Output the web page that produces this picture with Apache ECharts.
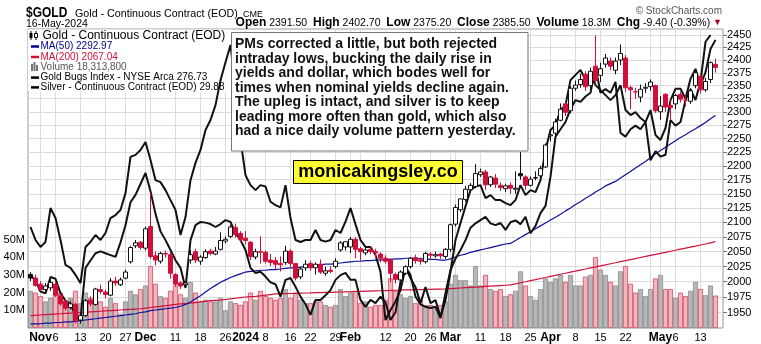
<!DOCTYPE html>
<html><head><meta charset="utf-8">
<script src="https://cdn.jsdelivr.net/npm/echarts@6/dist/echarts.min.js"></script>
<style>html,body{margin:0;padding:0;background:#fff}#c{width:761px;height:344px}</style>
</head><body><div id="c"></div>
<script>
const dates = ['2023-10-30','2023-10-31',
'2023-11-01','2023-11-02','2023-11-03','2023-11-06','2023-11-07','2023-11-08','2023-11-09','2023-11-10','2023-11-13','2023-11-14','2023-11-15','2023-11-16','2023-11-17','2023-11-20','2023-11-21','2023-11-22','2023-11-24','2023-11-27','2023-11-28','2023-11-29','2023-11-30',
'2023-12-01','2023-12-04','2023-12-05','2023-12-06','2023-12-07','2023-12-08','2023-12-11','2023-12-12','2023-12-13','2023-12-14','2023-12-15','2023-12-18','2023-12-19','2023-12-20','2023-12-21','2023-12-22','2023-12-26','2023-12-27','2023-12-28','2023-12-29',
'2024-01-02','2024-01-03','2024-01-04','2024-01-05','2024-01-08','2024-01-09','2024-01-10','2024-01-11','2024-01-12','2024-01-16','2024-01-17','2024-01-18','2024-01-19','2024-01-22','2024-01-23','2024-01-24','2024-01-25','2024-01-26','2024-01-29','2024-01-30','2024-01-31',
'2024-02-01','2024-02-02','2024-02-05','2024-02-06','2024-02-07','2024-02-08','2024-02-09','2024-02-12','2024-02-13','2024-02-14','2024-02-15','2024-02-16','2024-02-20','2024-02-21','2024-02-22','2024-02-23','2024-02-26','2024-02-27','2024-02-28','2024-02-29',
'2024-03-01','2024-03-04','2024-03-05','2024-03-06','2024-03-07','2024-03-08','2024-03-11','2024-03-12','2024-03-13','2024-03-14','2024-03-15','2024-03-18','2024-03-19','2024-03-20','2024-03-21','2024-03-22','2024-03-25','2024-03-26','2024-03-27','2024-03-28',
'2024-04-01','2024-04-02','2024-04-03','2024-04-04','2024-04-05','2024-04-08','2024-04-09','2024-04-10','2024-04-11','2024-04-12','2024-04-15','2024-04-16','2024-04-17','2024-04-18','2024-04-19','2024-04-22','2024-04-23','2024-04-24','2024-04-25','2024-04-26','2024-04-29','2024-04-30',
'2024-05-01','2024-05-02','2024-05-03','2024-05-06','2024-05-07','2024-05-08','2024-05-09','2024-05-10','2024-05-13','2024-05-14','2024-05-15','2024-05-16'];

const opens = [2012,2006,1996,1987,1990,1996,1977,1968,1958,1963,1938,1945,1970,1963,1987,1983,1978,2001,1995,2006,2033,2060,2066,
2056,2093,2043,2034,2047,2045,2012,1998,1995,2036,2050,2034,2040,2051,2046,2054,2068,2076,2091,2081,
2073,2066,2041,2050,2049,2036,2035,2030,2032,2051,2030,2008,2023,2030,2023,2029,2014,2019,2025,2053,2058,
2058,2071,2055,2048,2054,2050,2046,2039,2036,2012,2003,2014,2025,2040,2036,2033,2046,2043,2046,2042,
2054,2097,2122,2140,2157,2163,2184,2189,2166,2178,2165,2159,2165,2158,2186,2180,2165,2178,2182,2198,
2255,2260,2284,2315,2302,2345,2352,2372,2350,2388,2370,2392,2398,2380,2400,2404,2346,2338,2328,2345,2348,2350,
2300,2333,2312,2315,2333,2322,2320,2350,2368,2342,2362,2391.5];
const highs = [2016,2012,2001,1998,2004,1999,1980,1972,1969,1966,1948,1972,1976,1990,1995,1987,2006,2008,2007,2020,2060,2070,2068,
2093,2152,2050,2050,2052,2050,2014,2001,2000,2053,2055,2044,2054,2055,2058,2083,2076,2096,2098,2085,
2085,2068,2055,2076,2052,2046,2041,2042,2060,2054,2031,2024,2036,2035,2032,2037,2025,2026,2039,2068,2068,
2075,2075,2058,2058,2059,2055,2049,2044,2039,2015,2019,2027,2041,2045,2040,2050,2049,2050,2048,2056,
2098,2131,2142,2164,2169,2203,2195,2193,2182,2185,2170,2168,2170,2190,2225,2183,2181,2190,2200,2241,
2265,2287,2316,2319,2349,2360,2373,2378,2385,2449,2395,2412,2405,2405,2431,2410,2350,2346,2352,2355,2362,2352,
2330,2336,2325,2334,2338,2330,2345,2382,2372,2365,2397,2402.7];
const lows = [2001,1992,1985,1984,1985,1975,1961,1953,1955,1932,1932,1943,1960,1961,1980,1973,1976,1993,1993,2004,2030,2056,2053,
2052,2038,2027,2030,2040,2005,1992,1988,1992,2030,2031,2028,2038,2044,2044,2052,2064,2073,2074,2066,
2062,2036,2037,2030,2030,2026,2021,2017,2028,2025,2002,2004,2018,2018,2012,2013,2010,2014,2022,2050,2052,
2048,2039,2035,2044,2046,2041,2032,2030,1999,1997,1999,2011,2022,2030,2028,2030,2038,2040,2038,2038,
2050,2093,2118,2136,2152,2160,2180,2157,2162,2160,2155,2153,2150,2150,2175,2157,2163,2174,2180,2196,
2245,2255,2282,2292,2297,2340,2346,2340,2340,2353,2357,2385,2380,2372,2390,2338,2305,2325,2318,2336,2340,2298,
2285,2300,2285,2305,2318,2310,2315,2345,2335,2338,2355,2375.2];
const closes = [2006,1994,1987,1993,1999,1978,1964,1957,1964,1937,1945,1969,1964,1988,1984,1979,2001,1998,2003,2016,2057,2065,2057,
2089,2042,2036,2047,2046,2014,1996,1993,1998,2045,2036,2041,2050,2047,2051,2069,2071,2092,2079,2071,
2069,2042,2050,2049,2034,2032,2029,2028,2051,2030,2006,2021,2029,2023,2029,2016,2018,2017,2034,2065,2067,
2071,2054,2050,2053,2050,2048,2039,2034,2014,2004,2016,2025,2039,2035,2034,2047,2044,2045,2043,2054,
2096,2126,2141,2158,2165,2186,2189,2166,2180,2167,2161,2164,2160,2160,2182,2165,2176,2179,2195,2238,
2257,2281,2305,2299,2345,2351,2362,2348,2378,2360,2383,2404,2388,2398,2413,2346,2342,2338,2343,2347,2357,2302,
2311,2309,2308,2331,2324,2322,2340,2375,2342,2358,2395,2385.5];
const volumesM = [21,20,18,15,17,19,20,15,17,21,14,20,17,19,15,12,17,14,8,15,21,19,22,
24,35,25,18,17,21,24,19,17,26,20,15,16,15,15,17,10,15,14,13,
15,20,16,21,18,17,16,17,22,17,20,16,14,14,15,15,13,12,13,22,18,
20,21,14,15,12,13,13,16,28,21,19,17,18,14,16,13,13,12,13,15,
25,30,27,27,24,35,24,30,22,21,22,18,19,21,32,24,18,16,22,28,
26,28,30,26,30,24,24,29,30,40,33,30,26,24,32,35,25,20,22,18,22,28,
30,22,22,17,20,18,21,26,22,18.5,24,18.3];
const ma50 = [1932,1932,1932,1933,1933,1934,1934,1935,1935,1936,1937,1938,1939,1940,1941,1942,1943,1944,1945,1946,1947,1948,1950,
1951,1953,1954,1955,1956,1957,1958,1960,1963,1967,1972,1977,1983,1989,1994,1999,2003,2007,2010,2013,
2016,2017,2018,2019,2019,2020,2020,2021,2022,2023,2023,2024,2025,2026,2027,2028,2029,2029,2030,2031,2032,
2033,2034,2034,2035,2035,2036,2036,2037,2037,2038,2038,2039,2039,2039,2038,2038,2037,2037,2036,2036,
2038,2041,2044,2046,2049,2051,2053,2055,2057,2059,2061,2063,2064,2069,2074,2079,2084,2089,2094,2099,
2104,2109,2114,2120,2125,2131,2136,2142,2147,2153,2158,2164,2168,2172,2178,2184,2190,2196,2202,2208,2215,2222,
2228,2234,2240,2246,2252,2257,2263,2268,2274,2280,2287,2292.97];
const ma200 = [1945,1945.5,1946,1946.5,1947,1947.5,1948,1948.5,1949,1949.5,1950,1950.5,1951,1951.5,1952,1952.5,1953,1953.5,1954,1954.5,1955,1955.5,1956,
1957,1958,1959,1960,1961,1962,1963,1964,1964.5,1965,1966,1967,1968,1969,1969.5,1970,1971,1972,1973,1974,
1975,1975.5,1976,1977,1978,1979,1980,1980.2,1980.5,1980.7,1981,1981.2,1981.5,1981.7,1982,1982.2,1982.5,1982.7,1983,1983.2,1983.5,
1983.7,1984,1984.2,1984.5,1984.7,1985,1985.2,1985.5,1985.7,1986,1986.2,1986.5,1986.7,1987,1987.2,1987.4,1987.6,1987.8,1988,1988.2,
1988.7,1989.2,1989.7,1990.2,1990.7,1991.2,1991.7,1992.2,1992.7,1993.2,1993.7,1994.2,1994.7,1996.5,1998.3,2000,2001.8,2003.5,2005.3,2007,
2008.8,2010.5,2012.3,2014,2015.8,2017.5,2019.3,2021,2022.8,2024.5,2026.3,2028,2029.8,2031.5,2033.3,2035,2036.8,2038.5,2040.3,2042,2043.8,2045.5,
2047.3,2049,2050.8,2052.5,2054.3,2056,2057.8,2059.5,2061.3,2063,2065,2067.04];
const goldBugs = [220.4,216.5,214.4,215.9,226.1,223.1,216.5,209.0,208.1,206.0,203.5,214.4,215.9,218.0,216.5,218.6,223.1,224.0,225.5,230.6,241.5,242.1,243.6,
246.0,240.6,234.5,233.9,231.5,228.5,225.5,218.0,223.4,234.5,239.7,243.6,249.6,252.6,257.1,264.6,270.0,275.2,261.6,246.6,
236.0,233.0,231.5,233.0,232.6,228.0,227.0,226.3,233.0,223.1,216.5,215.9,216.5,216.5,219.5,216.5,216.0,216.5,219.5,218.6,222.0,
226.1,221.2,216.5,214.4,214.4,212.0,206.9,192.4,195.4,198.0,201.4,208.1,205.0,202.3,197.5,202.3,197.5,198.4,193.3,198.4,
206.9,216.5,221.6,226.6,231.5,232.6,233.0,229.1,230.0,228.5,228.5,227.6,227.0,228.5,233.0,230.0,231.5,230.9,234.5,243.6,
249.6,251.1,255.6,257.1,264.6,266.2,267.7,264.6,266.2,263.1,261.6,260.1,258.6,260.1,263.1,255.6,254.1,255.0,253.2,252.0,255.6,248.1,
246.6,250.2,258.6,262,262,259,265,268,263,267,274,276.73];
const silver = [23.30,23.15,22.85,22.80,23.25,23.20,22.80,22.60,22.50,22.20,22.10,23.50,23.70,23.90,23.95,23.90,23.85,23.80,24.20,24.67,25.30,25.50,25.80,
26.10,25.60,24.98,24.50,24.26,23.99,23.71,23.50,22.95,24.26,24.67,24.76,24.74,24.70,24.62,24.70,24.81,24.76,24.45,24.26,
23.99,23.50,23.36,23.39,23.26,23.10,23.05,22.71,23.17,23.22,22.98,22.71,22.50,22.21,22.62,22.62,22.75,22.89,23.17,23.30,23.36,
23.17,23.17,22.62,22.43,22.62,22.53,22.71,22.55,22.07,22.28,23.12,23.53,23.30,22.71,22.50,22.43,22.40,22.43,22.12,22.81,
23.44,23.75,23.99,24.26,24.60,24.72,24.81,24.90,24.72,24.67,24.73,24.54,24.75,24.80,24.70,24.90,24.45,24.65,25.00,
25.20,26.00,27.10,27.30,27.50,27.85,28.10,28.05,28.20,28.30,29.00,28.30,28.40,28.30,28.60,27.20,27.10,27.30,27.40,27.30,27.50,26.45,
26.70,26.55,26.60,27.55,27.40,27.50,28.10,28.40,28.10,28.60,29.70,29.88];

const priceTicks = [1950,1975,2000,2025,2050,2075,2100,2125,2150,2175,2200,2225,2250,2275,2300,2325,2350,2375,2400,2425,2450];
const volumeTicksM = [10,20,30,40,50];
const xTickLabels = [['2023-11-01','Nov'],['2023-11-06','6'],['2023-11-13','13'],['2023-11-20','20'],['2023-11-27','27'],
['2023-12-01','Dec'],['2023-12-11','11'],['2023-12-18','18'],['2023-12-26','26'],['2024-01-02','2024'],['2024-01-08','8'],
['2024-01-16','16'],['2024-01-22','22'],['2024-01-29','29'],['2024-02-01','Feb'],['2024-02-12','12'],['2024-02-20','20'],
['2024-02-26','26'],['2024-03-01','Mar'],['2024-03-11','11'],['2024-03-18','18'],['2024-03-25','25'],['2024-04-01','Apr'],
['2024-04-08','8'],['2024-04-15','15'],['2024-04-22','22'],['2024-05-01','May'],['2024-05-06','6'],['2024-05-13','13']];
const extraGridDates = ['2023-12-04','2024-02-05','2024-03-04','2024-04-29'];
const boldLabels = ['Nov','Dec','2024','Feb','Mar','Apr','May'];
const legendItems = ['Gold - Continuous Contract (EOD)','MA(50) 2292.97','MA(200) 2067.04','Volume 18,313,800','Gold Bugs Index - NYSE Arca 276.73','Silver - Continuous Contract (EOD) 29.88'];
const noteLines = ['PMs corrected a little, but both rejected','intraday lows, bucking the daily rise in','yields and dollar, which bodes well for','times when nominal yields decline again.','The upleg is intact, and silver is to keep','leading more often than gold, which also','had a nice daily volume pattern yesterday.'];

const RED = '#d0103a', BLK = '#111';
const FONT = '"Liberation Sans", Arial, sans-serif';
const labelMap = {}; xTickLabels.forEach(p => labelMap[p[0]] = p[1]);
const cats = dates.concat(['']);
const ln = Math.log;

const candleData = [], volData = [];
for (let i = 0; i < dates.length; i++) {
  const prev = i > 0 ? closes[i - 1] : closes[i];
  const col = closes[i] < prev ? RED : BLK;
  const fill = closes[i] > opens[i] ? '#fff' : col;
  candleData.push({value: [ln(opens[i]), ln(closes[i]), ln(lows[i]), ln(highs[i])],
    itemStyle: {color: fill, color0: fill, borderColor: col, borderColor0: col, borderColorDoji: col}});
  const down = closes[i] < prev;
  volData.push({value: volumesM[i], itemStyle: down ? {color: '#efb6be', borderColor: '#d24a66'} : {color: '#b7b7b7', borderColor: '#8a8a8a'}});
}
const isTick = (idx) => labelMap[cats[idx]] !== undefined;
const isGrid = (idx) => isTick(idx) || extraGridDates.includes(cats[idx]);

const chart = echarts.init(document.getElementById('c'), null, {renderer: 'canvas'});
const legendG = [];
legendG.push({type: 'rect', shape: {x: 28, y: 29.5, width: 203, height: 62}, style: {fill: '#fff'}, z: 1, silent: true});
const legendColors = ['#000', '#00008b', RED, '#555', '#000', '#000'];
const legendY = [35.7, 46.5, 57.0, 67.5, 77.6, 87.4];
legendItems.forEach((t, k) => {
  const y = legendY[k];
  legendG.push({type: 'text', z: 50, style: {x: k === 0 ? 42.5 : 40.5, y: y, text: t, fill: legendColors[k], font: (k === 0 ? '12px ' : '10px ') + FONT, verticalAlign: 'middle'}});
  if (k === 0) {
    legendG.push({type: 'line', z: 50, shape: {x1: 31, y1: 31, x2: 31, y2: 40}, style: {stroke: '#000', lineWidth: 1}});
    legendG.push({type: 'rect', z: 50, shape: {x: 29.5, y: 33, width: 3, height: 5}, style: {fill: '#000'}});
    legendG.push({type: 'line', z: 50, shape: {x1: 36, y1: 31, x2: 36, y2: 40}, style: {stroke: '#000', lineWidth: 1}});
    legendG.push({type: 'rect', z: 50, shape: {x: 34.5, y: 33.5, width: 3, height: 4}, style: {fill: '#fff', stroke: '#000', lineWidth: 1}});
  } else if (k === 3) {
    [[31, 64], [33.5, 62], [36, 65]].forEach(b => legendG.push({type: 'rect', z: 50, shape: {x: b[0], y: b[1], width: 2, height: 71 - b[1]}, style: {fill: '#777'}}));
  } else {
    legendG.push({type: 'line', z: 50, shape: {x1: 31, y1: y, x2: 39, y2: y}, style: {stroke: legendColors[k], lineWidth: 2.5}});
  }
});

const option = {
  animation: false,
  backgroundColor: '#fff',
  grid: {left: 28, right: 38, top: 29, bottom: 16, show: true, borderColor: '#9a9a9a', borderWidth: 1, backgroundColor: '#fff', containLabel: false, outerBoundsMode: 'none'},
  xAxis: {type: 'category', data: cats, boundaryGap: true,
    axisLine: {show: false}, axisTick: {show: false, alignWithLabel: true},
    axisLabel: {interval: (idx) => isTick(idx), margin: 4, color: '#000', fontFamily: FONT, fontSize: 11,
      formatter: (v) => { const t = labelMap[v]; if (t === undefined) return ''; return boldLabels.includes(t) ? '{b|' + t + '}' : t; },
      rich: {b: {fontWeight: 'bold', fontSize: 12, fontFamily: FONT, color: '#000'}}},
    splitLine: {show: true, alignWithLabel: true, interval: (idx) => isGrid(idx), lineStyle: {color: '#dcdcdc', width: 1}}},
  yAxis: [
    {type: 'value', position: 'right', min: ln(1925.3), max: ln(2462.1), scale: true,
      axisLine: {show: false},
      axisTick: {show: true, length: 4, lineStyle: {color: '#777'}, customValues: priceTicks.map(ln)},
      axisLabel: {customValues: priceTicks.map(ln), formatter: (v) => String(Math.round(Math.exp(v))), color: '#000', fontFamily: FONT, fontSize: 11, margin: 4},
      splitLine: {show: true, lineStyle: {color: '#dcdcdc', width: 1}}},
    {type: 'value', position: 'left', min: 0, max: 168.9,
      axisLine: {show: false}, axisTick: {show: false, customValues: volumeTicksM},
      axisLabel: {customValues: volumeTicksM, formatter: (v) => v + 'M', color: '#000', fontFamily: FONT, fontSize: 11, margin: 3},
      splitLine: {show: false}},
    {type: 'value', show: false, min: 190, max: 280},
    {type: 'value', show: false, min: 21.85, max: 30.05}
  ],
  series: [
    {type: 'bar', name: 'Volume', yAxisIndex: 1, data: volData, barWidth: '100%', barCategoryGap: '0%', itemStyle: {borderWidth: 0.8}, z: 1, silent: true},
    {type: 'line', name: 'MA(200)', yAxisIndex: 0, data: ma200.map(ln), symbol: 'none', lineStyle: {color: RED, width: 1.2}, z: 3, silent: true},
    {type: 'line', name: 'MA(50)', yAxisIndex: 0, data: ma50.map(ln), symbol: 'none', lineStyle: {color: '#10109a', width: 1.2}, z: 3, silent: true},
    {type: 'line', name: 'Gold Bugs', yAxisIndex: 2, data: goldBugs, symbol: 'none', lineStyle: {color: BLK, width: 2}, z: 4, silent: true},
    {type: 'line', name: 'Silver', yAxisIndex: 3, data: silver, symbol: 'none', lineStyle: {color: BLK, width: 2}, z: 4, silent: true},
    {type: 'candlestick', name: 'Gold', yAxisIndex: 0, data: candleData, barWidth: 4, itemStyle: {borderWidth: 1}, z: 5, silent: true}
  ],
  graphic: [
    {type: 'text', x: 26, y: 13, scaleX: 0.8, style: {x: 0, y: 0, text: '$GOLD', font: 'bold 15px ' + FONT, fill: '#000', verticalAlign: 'middle'}},
    {type: 'text', style: {x: 75, y: 14, text: 'Gold - Continuous Contract (EOD)', font: '10.7px ' + FONT, fill: '#000', verticalAlign: 'middle'}},
    {type: 'text', style: {x: 243, y: 14.5, text: 'CME', font: '9px ' + FONT, fill: '#000', verticalAlign: 'middle'}},
    {type: 'text', style: {x: 26, y: 24, text: '16-May-2024', font: '10.5px ' + FONT, fill: '#000', verticalAlign: 'middle'}},
    {type: 'text', style: {x: 722, y: 11, text: '\u00a9 StockCharts.com', font: '10px ' + FONT, fill: '#555', align: 'right', verticalAlign: 'middle'}},
    {type: 'text', style: {x: 722, y: 23, align: 'right', verticalAlign: 'middle', font: '10.5px ' + FONT, fill: '#000',
      text: '{b|Open} 2391.50  {b|High} 2402.70  {b|Low} 2375.20  {b|Close} 2385.50  {b|Volume} 18.3M  {b|Chg} -9.40 (-0.39%) {r|\u25bc}',
      rich: {b: {font: 'bold 12px ' + FONT, fill: '#000'}, r: {font: '9px ' + FONT, fill: '#b00020'}}}},
    ...legendG,
    {type: 'rect', z: 60, shape: {x: 231.5, y: 32.5, width: 296.5, height: 118.5}, style: {fill: '#fff', stroke: '#777', lineWidth: 1}},
    {type: 'text', z: 61, style: {x: 235, y: 37, text: noteLines.join('\n'), font: 'bold 14px ' + FONT, lineHeight: 14.5, fill: '#111', verticalAlign: 'top'}},
    {type: 'rect', z: 60, shape: {x: 293.5, y: 160.5, width: 169, height: 23}, style: {fill: '#ffff33', stroke: '#000', lineWidth: 1}},
    {type: 'text', z: 61, style: {x: 378, y: 172, text: 'monicakingsley.co', font: 'bold 18px ' + FONT, fill: '#000', align: 'center', verticalAlign: 'middle'}}
  ]
};
chart.setOption(option);
</script>
</body></html>
